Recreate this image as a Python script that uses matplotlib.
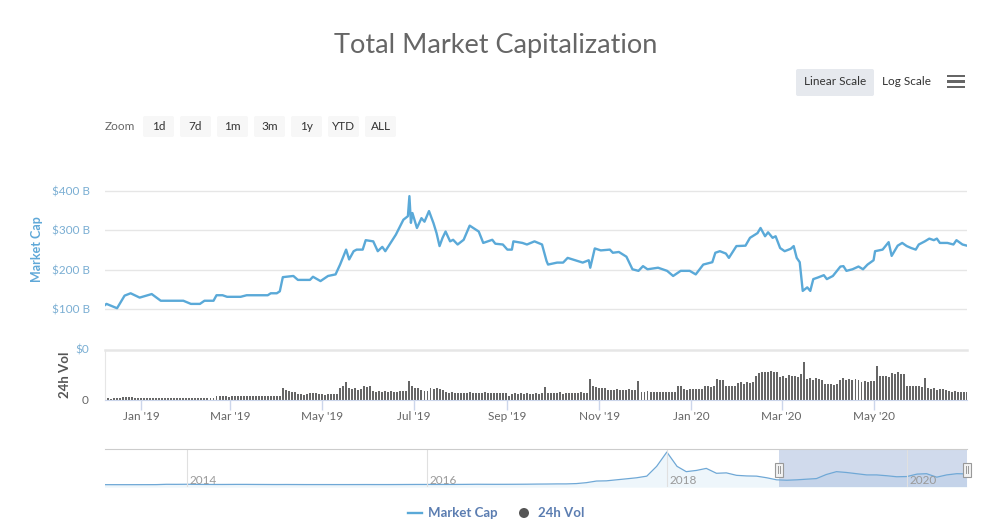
import matplotlib
matplotlib.use('Agg')
import matplotlib.pyplot as plt
import matplotlib.dates as mdates
from matplotlib.patches import FancyBboxPatch, Rectangle, Circle
import pandas as pd

plt.rcParams['font.family'] = ['Lato', 'DejaVu Sans']

# market cap (billions USD)
cap_dates = [
    '2018-12-08', '2018-12-09', '2018-12-16', '2018-12-21', '2018-12-25', '2018-12-31',
    '2019-01-08', '2019-01-14', '2019-01-22', '2019-01-29', '2019-02-03', '2019-02-09',
    '2019-02-12', '2019-02-18', '2019-02-20', '2019-02-24', '2019-02-27', '2019-03-08',
    '2019-03-12', '2019-03-26', '2019-03-28', '2019-04-01', '2019-04-03', '2019-04-05',
    '2019-04-12', '2019-04-15', '2019-04-23', '2019-04-25', '2019-04-30', '2019-05-05',
    '2019-05-10', '2019-05-13', '2019-05-17', '2019-05-19', '2019-05-22', '2019-05-24',
    '2019-05-28', '2019-05-30', '2019-06-04', '2019-06-07', '2019-06-10', '2019-06-12',
    '2019-06-19', '2019-06-24', '2019-06-27', '2019-06-28', '2019-06-29', '2019-06-30',
    '2019-07-03', '2019-07-06', '2019-07-08', '2019-07-11', '2019-07-14', '2019-07-16',
    '2019-07-18', '2019-07-20', '2019-07-22', '2019-07-25', '2019-07-27', '2019-07-30',
    '2019-08-03', '2019-08-07', '2019-08-13', '2019-08-16', '2019-08-22', '2019-08-24',
    '2019-08-29', '2019-09-01', '2019-09-04', '2019-09-05', '2019-09-11', '2019-09-14',
    '2019-09-19', '2019-09-24', '2019-09-27', '2019-09-28', '2019-10-04', '2019-10-08',
    '2019-10-11', '2019-10-16', '2019-10-21', '2019-10-25', '2019-10-26', '2019-10-29',
    '2019-11-02', '2019-11-08', '2019-11-10', '2019-11-14', '2019-11-19', '2019-11-23',
    '2019-11-27', '2019-11-30', '2019-12-03', '2019-12-10', '2019-12-16', '2019-12-20',
    '2019-12-25', '2019-12-31', '2020-01-04', '2020-01-09', '2020-01-15', '2020-01-17',
    '2020-01-20', '2020-01-24', '2020-01-26', '2020-01-31', '2020-02-06', '2020-02-09',
    '2020-02-14', '2020-02-16', '2020-02-19', '2020-02-21', '2020-02-24', '2020-02-26',
    '2020-02-29', '2020-03-03', '2020-03-07', '2020-03-09', '2020-03-11', '2020-03-13',
    '2020-03-15', '2020-03-18', '2020-03-20', '2020-03-22', '2020-03-25', '2020-03-29',
    '2020-03-31', '2020-04-04', '2020-04-09', '2020-04-11', '2020-04-13', '2020-04-17',
    '2020-04-21', '2020-04-24', '2020-04-27', '2020-05-01', '2020-05-02', '2020-05-07',
    '2020-05-11', '2020-05-13', '2020-05-17', '2020-05-20', '2020-05-23', '2020-05-26',
    '2020-05-29', '2020-05-31', '2020-06-04', '2020-06-07', '2020-06-10', '2020-06-12',
    '2020-06-14', '2020-06-19', '2020-06-23', '2020-06-25', '2020-06-29', '2020-07-02',
]
cap_values = [
    110, 113, 102, 134, 140, 129,
    138, 121, 121, 121, 113, 113,
    121, 121, 135, 135, 131, 131,
    135, 135, 140, 140, 145, 181,
    184, 174, 174, 182, 171, 184,
    188, 213, 251, 226, 247, 251,
    251, 275, 272, 247, 258, 247,
    289, 327, 336, 387, 319, 344,
    306, 331, 322, 349, 318, 293,
    260, 281, 297, 272, 276, 264,
    276, 312, 297, 268, 276, 266,
    264, 251, 251, 272, 268, 264,
    272, 264, 222, 213, 218, 218,
    230, 224, 218, 224, 205, 254,
    249, 251, 243, 245, 233, 201,
    197, 209, 201, 205, 197, 184,
    197, 197, 188, 213, 219, 243,
    247, 241, 230, 260, 261, 281,
    293, 306, 285, 295, 281, 285,
    255, 247, 253, 260, 230, 219,
    146, 155, 146, 176, 180, 186,
    176, 184, 208, 209, 197, 201,
    208, 201, 213, 224, 247, 251,
    270, 235, 261, 268, 260, 255,
    251, 264, 272, 279, 275, 279,
    268, 268, 264, 275, 264, 261,
]

# 24h volume (billions USD), one bar every two days from 2018-12-08
vol_start = '2018-12-08'
vol_values = [
    7, 8, 7, 9, 8, 12, 15, 16, 14, 13,
    11, 10, 9, 10, 12, 10, 9, 11, 10, 9,
    10, 11, 10, 9, 10, 11, 12, 10, 11, 10, 11, 10, 11, 12, 10, 11, 12,
    18, 19, 18, 20, 17, 19, 18, 19, 20, 18, 19, 20, 19, 18, 20, 19, 20, 21, 20, 19, 21, 20,
    58, 48, 45, 42, 38, 28, 30, 27, 32, 34, 33, 35, 30,
    28, 27, 30, 29, 28, 31,
    60, 70, 88, 60, 55, 58, 52, 55, 70, 65, 68,
    45, 42, 44, 40, 43, 41, 45, 42, 40, 44, 43, 46,
    95, 68, 62, 60, 48, 45, 46, 58, 55, 60, 56, 52,
    38, 36, 40, 35, 37, 36, 36, 35, 38, 34, 37, 35, 36, 38, 34, 36, 35, 37, 36, 34, 36,
    22, 32, 33, 31, 34, 32, 33, 30, 32, 34, 31, 33, 65,
    35, 33, 36, 34, 38, 32, 35, 37, 33, 36, 34, 38, 36, 37,
    105, 70, 65, 62, 60, 58, 50, 52, 48, 55, 50, 52, 49, 53, 51, 50, 95,
    42, 40, 44, 38, 40, 42, 39, 41, 38, 40, 42, 40, 70, 68,
    55, 52, 56, 54, 55, 53, 57, 68, 70, 66, 72, 105, 98, 100, 70, 68, 72, 70,
    85, 88, 82, 90, 86, 88, 120, 135, 140, 140, 138, 145, 142, 138,
    115, 120, 110, 125, 118, 122, 115, 128, 188, 105, 110, 100, 112, 105, 98,
    80, 78, 82, 76, 80, 102, 108, 100, 105, 98, 104, 100, 92, 95, 90, 96, 94, 170,
    120, 118, 122, 115, 135, 130, 138, 132, 128, 72, 70, 68, 72, 70, 66, 110,
    60, 55, 58, 52, 56, 54, 50, 45, 42, 44, 40, 42, 38, 41,
]

# navigator: monthly market cap over the full history (billions USD)
nav_start = '2013-04-01'
nav_values = [
    1.5, 1.3, 1.1, 1.0, 1.3, 1.5, 2.3, 10, 9,
    11, 8, 7, 6, 6.5, 8, 8, 6.5, 5.5, 4.5, 5.3, 4.5,
    3.5, 3.6, 3.6, 3.4, 3.4, 3.7, 4.3, 3.7, 3.6, 4.4, 5.5, 6.5,
    6.4, 6.6, 6.8, 7.3, 8.6, 11, 10, 9.6, 10, 11, 12.5, 15.5,
    17, 20, 20, 28, 50, 90, 95, 120, 145, 170, 210, 450,
    800, 450, 320, 350, 400, 280, 290, 230, 215, 210, 170, 120,
    110, 120, 135, 150, 250, 320, 300, 270, 240, 240, 220, 195,
    200, 260, 270, 185, 240, 270, 265,
]

zoom_buttons = ['1d', '7d', '1m', '3m', '1y', 'YTD', 'ALL']
cap_ticks = [100, 200, 300, 400]
month_ticks = ['2019-01-01', '2019-03-01', '2019-05-01', '2019-07-01', '2019-09-01',
               '2019-11-01', '2020-01-01', '2020-03-01', '2020-05-01']
nav_years = ['2014', '2016', '2018', '2020']

W, H = 999, 531
LINE = '#5aa9d8'
view_start, view_end = pd.Timestamp('2018-12-08'), pd.Timestamp('2020-07-02')

fig = plt.figure(figsize=(W / 100, H / 100), dpi=100)
fig.patch.set_facecolor('white')


def px_axes(x0, y0, x1, y1):
    return fig.add_axes([x0 / W, 1 - y1 / H, (x1 - x0) / W, (y1 - y0) / H])


# main market cap panel
ax = px_axes(105, 180, 967, 340)
ax.plot(pd.to_datetime(cap_dates), cap_values, color=LINE, lw=1.7, solid_joinstyle='round')
ax.set_xlim(view_start, view_end)
ax.set_ylim(21.2, 428)
ax.set_yticks(cap_ticks)
ax.set_yticklabels(['$%d B' % v for v in cap_ticks])
ax.tick_params(axis='y', length=0, pad=11, labelcolor='#7aaed3', labelsize=8.5)
ax.set_xticks([])
ax.grid(axis='y', color='#e6e6e6', lw=1)
ax.set_axisbelow(True)
for s in ax.spines.values():
    s.set_visible(False)

# volume panel
axv = px_axes(105, 350, 967, 400)
vol_dates = pd.date_range(vol_start, periods=len(vol_values), freq='2D')
axv.bar(vol_dates, vol_values, width=1.3, color='#666666', align='center')
axv.set_xlim(view_start, view_end)
axv.set_ylim(0, 250)
axv.set_yticks([])
axv.set_xticks(pd.to_datetime(month_ticks))
axv.xaxis.set_major_formatter(mdates.DateFormatter("%b '%y"))
axv.tick_params(axis='x', length=7, width=1, color='#ccd6eb', pad=1,
                labelcolor='#666666', labelsize=8.5)
for k in ['top', 'right']:
    axv.spines[k].set_visible(False)
axv.spines['left'].set_color('#e6e6e6')
axv.spines['bottom'].set_color('#ccd6eb')

# navigator
axn = px_axes(105, 449, 967, 487)
nav_dates = pd.date_range(nav_start, periods=len(nav_values), freq='MS')
axn.fill_between(nav_dates, nav_values, -60, color='#eef6fb', lw=0)
axn.plot(nav_dates, nav_values, color='#6fa8d6', lw=0.9)
axn.set_xlim(pd.Timestamp('2013-04-28'), view_end)
axn.set_ylim(-56, 875)
for y in nav_years:
    axn.axvline(pd.Timestamp(y + '-01-01'), color='#e0e0e0', lw=0.8)
axn.axvspan(view_start, view_end, color='#6685c2', alpha=0.3, lw=0)
axn.set_xticks([])
axn.set_yticks([])
for s in axn.spines.values():
    s.set_visible(False)
axn.spines['top'].set_visible(True)
axn.spines['top'].set_color('#cccccc')

# overlay in pixel coordinates for titles, buttons, labels, legend
ui = fig.add_axes([0, 0, 1, 1])
ui.set_xlim(0, W)
ui.set_ylim(H, 0)
ui.axis('off')
ui.patch.set_visible(False)

ui.text(496, 45, 'Total Market Capitalization', fontsize=19.5, color='#666666',
        ha='center', va='center')

ui.text(105, 127, 'Zoom', fontsize=8.5, color='#666666', ha='left', va='center')
for i, lab in enumerate(zoom_buttons):
    x0 = 143 + 37 * i
    ui.add_patch(FancyBboxPatch((x0, 116), 31, 21, boxstyle='round,pad=0,rounding_size=2',
                                fc='#f7f7f7', ec='none'))
    ui.text(x0 + 15.5, 126.5, lab, fontsize=8.5, color='#333333', ha='center', va='center')

ui.add_patch(FancyBboxPatch((796, 69), 78, 27, boxstyle='round,pad=0,rounding_size=2',
                            fc='#e6e9ee', ec='none'))
ui.text(835, 81.5, 'Linear Scale', fontsize=8.5, color='#333333', ha='center', va='center')
ui.text(882, 81.5, 'Log Scale', fontsize=8.5, color='#333333', ha='left', va='center')
for y in [74.5, 80, 85.5]:
    ui.add_patch(Rectangle((947, y), 18, 2.8, fc='#666666', ec='none'))

ui.text(37, 249, 'Market Cap', fontsize=9, fontweight='bold', color='#5fa8d8',
        rotation=90, ha='center', va='center')
ui.text(65, 375, '24h Vol', fontsize=9.5, fontweight='bold', color='#555555',
        rotation=90, ha='center', va='center')
ui.text(89, 350, '$0', fontsize=8.5, color='#7aaed3', ha='right', va='center')
ui.text(88, 400, '0', fontsize=8.5, color='#666666', ha='right', va='center')

# top border of the volume panel
ui.plot([105, 967], [350, 350], color='#e6e6e6', lw=1.8)

# navigator year labels and handles
nav_x = {'2014': 187, '2016': 427, '2018': 667, '2020': 907}
for y in nav_years:
    ui.text(nav_x[y] + 3, 481, y, fontsize=8.5, color='#999999', ha='left', va='center')
for hx in [779, 967]:
    ui.add_patch(Rectangle((hx - 4, 462.5), 8, 14, fc='#f2f2f2', ec='#999999', lw=0.8))
    ui.plot([hx - 1.2, hx - 1.2], [466, 473], color='#999999', lw=0.7)
    ui.plot([hx + 1.2, hx + 1.2], [466, 473], color='#999999', lw=0.7)

# legend
ui.plot([408, 422], [513, 513], color=LINE, lw=1.7)
ui.text(428, 513, 'Market Cap', fontsize=9.5, fontweight='bold', color='#5b7db1',
        ha='left', va='center')
ui.add_patch(Circle((524, 513), 5, fc='#555555', ec='none'))
ui.text(538, 513, '24h Vol', fontsize=9.5, fontweight='bold', color='#5b7db1',
        ha='left', va='center')

plt.savefig('out.png', dpi=100)
plt.close()
